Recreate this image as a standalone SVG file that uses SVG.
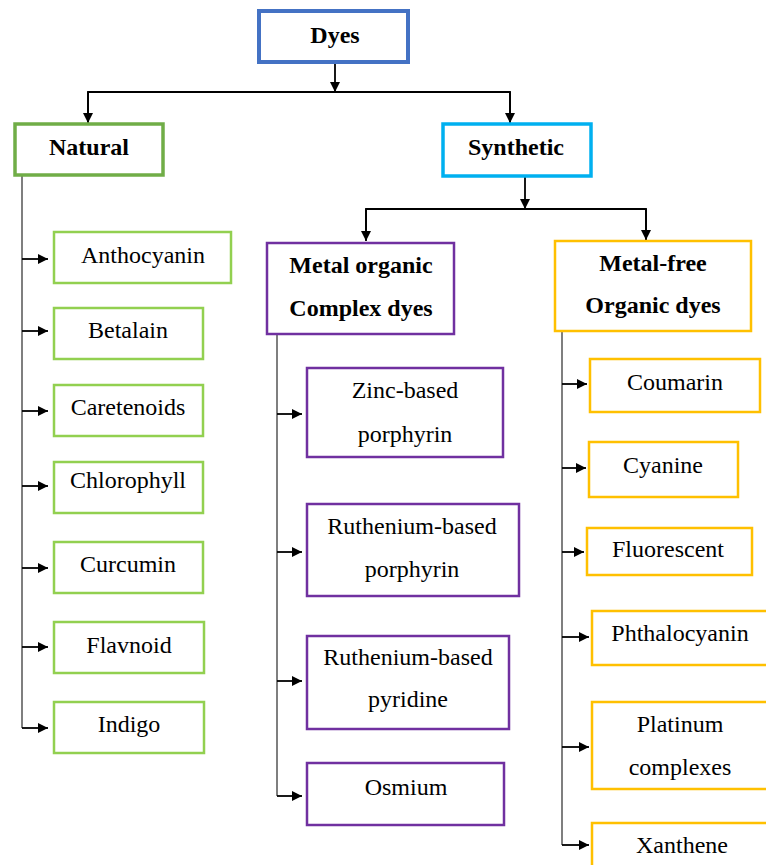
<svg xmlns="http://www.w3.org/2000/svg" width="766" height="865" viewBox="0 0 766 865">
<defs>
<marker id="ah" viewBox="0 0 10 10" refX="10" refY="5" markerWidth="10" markerHeight="10" markerUnits="userSpaceOnUse" orient="auto">
<path d="M0,0 L10,5 L0,10 z" fill="#000"/>
</marker>
</defs>
<style>
text{font-size:24px;fill:#000;text-anchor:middle}
.b{font-weight:bold}
rect{fill:#fff}
.blue{stroke:#4472C4;stroke-width:4}
.nat{stroke:#70AD47;stroke-width:3.5}
.syn{stroke:#00B0F0;stroke-width:3.5}
.grn{stroke:#92D050;stroke-width:2.5}
.pur{stroke:#7030A0;stroke-width:2.5}
.org{stroke:#FFC000;stroke-width:2.5}
.ln{stroke:#000;stroke-width:1.8;fill:none}
.gl{stroke:#7f7f7f;stroke-width:2;fill:none}
.ar{stroke:#000;stroke-width:1.8;fill:none;marker-end:url(#ah)}
</style>
<rect width="766" height="865" fill="#fff"/>
<g id="connectors">
<line class="ar" x1="335" y1="63" x2="335" y2="92"/>
<polyline class="ln" points="88,122 88,92 510,92 510,122"/>
<line class="ar" x1="88" y1="92" x2="88" y2="123"/>
<line class="ar" x1="510" y1="92" x2="510" y2="123"/>
<line class="ar" x1="525" y1="177" x2="525" y2="209"/>
<polyline class="ln" points="366,240 366,209 646,209 646,240"/>
<line class="ar" x1="366" y1="209" x2="366" y2="241"/>
<line class="ar" x1="646" y1="209" x2="646" y2="240"/>
<polyline class="gl" points="22,176 22,728"/>
<line class="ar" x1="22" y1="259" x2="48" y2="259"/>
<line class="ar" x1="22" y1="331" x2="48" y2="331"/>
<line class="ar" x1="22" y1="411" x2="48" y2="411"/>
<line class="ar" x1="22" y1="486" x2="48" y2="486"/>
<line class="ar" x1="22" y1="568" x2="48" y2="568"/>
<line class="ar" x1="22" y1="647" x2="48" y2="647"/>
<line class="ar" x1="22" y1="728" x2="48" y2="728"/>
<polyline class="gl" points="277,334 277,796"/>
<line class="ar" x1="277" y1="414" x2="302" y2="414"/>
<line class="ar" x1="277" y1="552" x2="302" y2="552"/>
<line class="ar" x1="277" y1="681" x2="302" y2="681"/>
<line class="ar" x1="277" y1="796" x2="302" y2="796"/>
<polyline class="gl" points="562,331 562,845"/>
<line class="ar" x1="562" y1="384" x2="587" y2="384"/>
<line class="ar" x1="562" y1="468" x2="586" y2="468"/>
<line class="ar" x1="562" y1="552" x2="584" y2="552"/>
<line class="ar" x1="562" y1="637" x2="589" y2="637"/>
<line class="ar" x1="562" y1="747" x2="589" y2="747"/>
<line class="ar" x1="562" y1="845" x2="589" y2="845"/>
</g>
<g font-family="Liberation Serif, Times New Roman, serif">
<g id="dyes"><rect class="blue" x="259" y="11" width="149" height="51"/><text class="b" x="335" y="43">Dyes</text></g>
<g id="natural"><rect class="nat" x="15" y="124" width="148" height="51"/><text class="b" x="89" y="155">Natural</text></g>
<g id="synthetic"><rect class="syn" x="443" y="124" width="148" height="52"/><text class="b" x="516" y="155">Synthetic</text></g>
<g id="anthocyanin"><rect class="grn" x="54" y="232" width="177" height="51"/><text x="143" y="263">Anthocyanin</text></g>
<g id="betalain"><rect class="grn" x="54" y="308" width="149" height="51"/><text x="128" y="338">Betalain</text></g>
<g id="caretenoids"><rect class="grn" x="54" y="385" width="149" height="51"/><text x="128" y="415">Caretenoids</text></g>
<g id="chlorophyll"><rect class="grn" x="54" y="462" width="149" height="51"/><text x="128" y="488" font-size="20">Chlorophyll</text></g>
<g id="curcumin"><rect class="grn" x="54" y="542" width="149" height="51"/><text x="128" y="572">Curcumin</text></g>
<g id="flavnoid"><rect class="grn" x="54" y="622" width="150" height="51"/><text x="129" y="653">Flavnoid</text></g>
<g id="indigo"><rect class="grn" x="54" y="702" width="150" height="51"/><text x="129" y="732">Indigo</text></g>
<g id="metal-organic"><rect class="pur" x="267" y="243" width="187" height="91"/><text class="b" x="361" y="273">Metal organic</text><text class="b" x="361" y="316">Complex dyes</text></g>
<g id="zinc"><rect class="pur" x="307" y="368" width="196" height="89"/><text x="405" y="398">Zinc-based</text><text x="405" y="442">porphyrin</text></g>
<g id="ru-porphyrin"><rect class="pur" x="307" y="504" width="212" height="92"/><text x="412" y="534">Ruthenium-based</text><text x="412" y="577">porphyrin</text></g>
<g id="ru-pyridine"><rect class="pur" x="307" y="636" width="202" height="93"/><text x="408" y="665">Ruthenium-based</text><text x="408" y="707">pyridine</text></g>
<g id="osmium"><rect class="pur" x="307" y="763" width="197" height="62"/><text x="406" y="795">Osmium</text></g>
<g id="metal-free"><rect class="org" x="555" y="241" width="196" height="90"/><text class="b" x="653" y="271">Metal-free</text><text class="b" x="653" y="313">Organic dyes</text></g>
<g id="coumarin"><rect class="org" x="590" y="359" width="170" height="53"/><text x="675" y="390">Coumarin</text></g>
<g id="cyanine"><rect class="org" x="589" y="442" width="149" height="55"/><text x="663" y="473">Cyanine</text></g>
<g id="fluorescent"><rect class="org" x="587" y="528" width="165" height="47"/><text x="668" y="557">Fluorescent</text></g>
<g id="phthalocyanin"><rect class="org" x="592" y="611" width="180" height="54"/><text x="680" y="641">Phthalocyanin</text></g>
<g id="platinum"><rect class="org" x="592" y="702" width="180" height="87"/><text x="680" y="732">Platinum</text><text x="680" y="775">complexes</text></g>
<g id="xanthene"><rect class="org" x="592" y="823" width="180" height="50"/><text x="682" y="853">Xanthene</text></g>
</g>
</svg>
